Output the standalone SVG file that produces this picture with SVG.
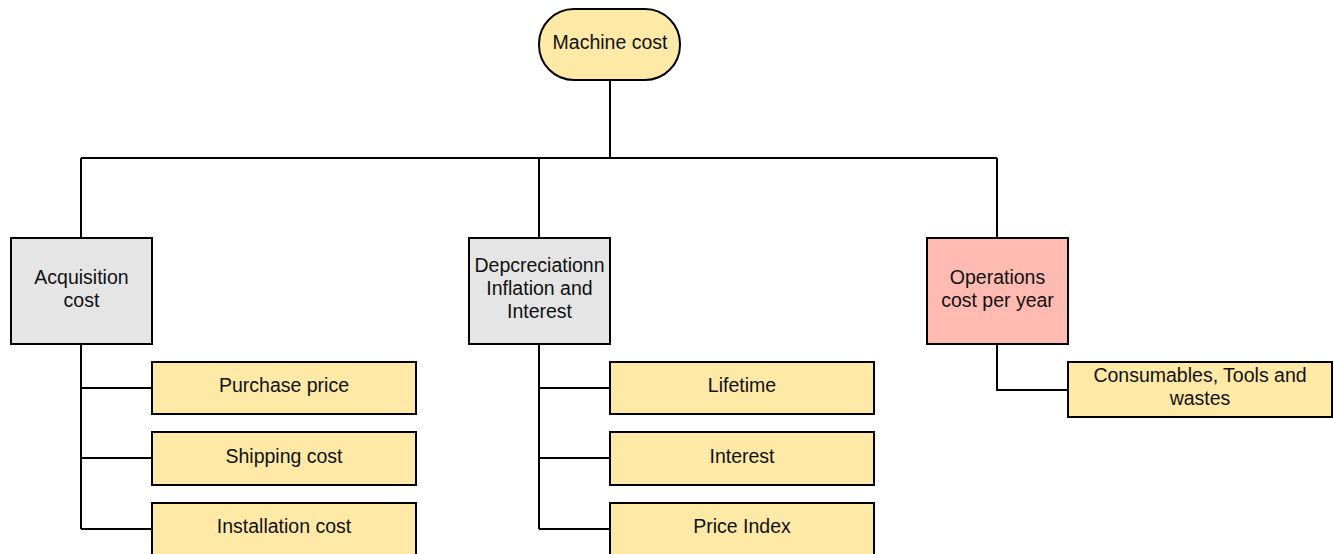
<svg xmlns="http://www.w3.org/2000/svg" width="1333" height="554" viewBox="0 0 1333 554">
  <style>
    .box { stroke: #000; stroke-width: 2; }
    .yellow { fill: #FFE9A6; }
    .grey { fill: #E5E5E5; }
    .pink { fill: #FFBBB1; }
    .lbl { font-family: "Liberation Sans", Arial, sans-serif; font-size: 19.5px; fill: #111; text-anchor: middle; }
    .wire { fill: none; stroke: #000; stroke-width: 2; }
  </style>
  <rect width="1333" height="554" fill="#fff"/>

  <!-- connectors -->
  <g id="connectors">
    <path class="wire" d="M610 80 V158 M81 158 H997 M81 158 V238 M539 158 V238 M997 158 V238"/>
    <path class="wire" d="M81 344 V529 M81 388 H152 M81 458 H152 M81 529 H152"/>
    <path class="wire" d="M539 344 V529 M539 388 H610 M539 458 H610 M539 529 H610"/>
    <path class="wire" d="M997 344 V390 H1068"/>
  </g>

  <g id="machine-cost">
    <rect class="box yellow" x="539" y="9" width="141" height="71" rx="35" ry="35"/>
    <text class="lbl" x="610" y="49">Machine cost</text>
  </g>

  <g id="acquisition-cost">
    <rect class="box grey" x="11" y="238" width="141" height="106"/>
    <text class="lbl" x="81.5" y="284">Acquisition</text>
    <text class="lbl" x="81.5" y="307">cost</text>
  </g>

  <g id="depreciation">
    <rect class="box grey" x="469" y="238" width="141" height="106"/>
    <text class="lbl" x="539.5" y="272">Depcreciationn</text>
    <text class="lbl" x="539.5" y="295">Inflation and</text>
    <text class="lbl" x="539.5" y="318">Interest</text>
  </g>

  <g id="operations-cost">
    <rect class="box pink" x="927" y="238" width="141" height="106"/>
    <text class="lbl" x="997.5" y="284">Operations</text>
    <text class="lbl" x="997.5" y="307">cost per year</text>
  </g>

  <g id="purchase-price">
    <rect class="box yellow" x="152" y="362" width="264" height="52"/>
    <text class="lbl" x="284" y="392">Purchase price</text>
  </g>

  <g id="shipping-cost">
    <rect class="box yellow" x="152" y="432" width="264" height="53"/>
    <text class="lbl" x="284" y="463">Shipping cost</text>
  </g>

  <g id="installation-cost">
    <rect class="box yellow" x="152" y="503" width="264" height="60"/>
    <text class="lbl" x="284" y="533">Installation cost</text>
  </g>

  <g id="lifetime">
    <rect class="box yellow" x="610" y="362" width="264" height="52"/>
    <text class="lbl" x="742" y="392">Lifetime</text>
  </g>

  <g id="interest">
    <rect class="box yellow" x="610" y="432" width="264" height="53"/>
    <text class="lbl" x="742" y="463">Interest</text>
  </g>

  <g id="price-index">
    <rect class="box yellow" x="610" y="503" width="264" height="60"/>
    <text class="lbl" x="742" y="533">Price Index</text>
  </g>

  <g id="consumables">
    <rect class="box yellow" x="1068" y="362" width="264" height="55"/>
    <text class="lbl" x="1200" y="382">Consumables, Tools and</text>
    <text class="lbl" x="1200" y="405">wastes</text>
  </g>
</svg>
